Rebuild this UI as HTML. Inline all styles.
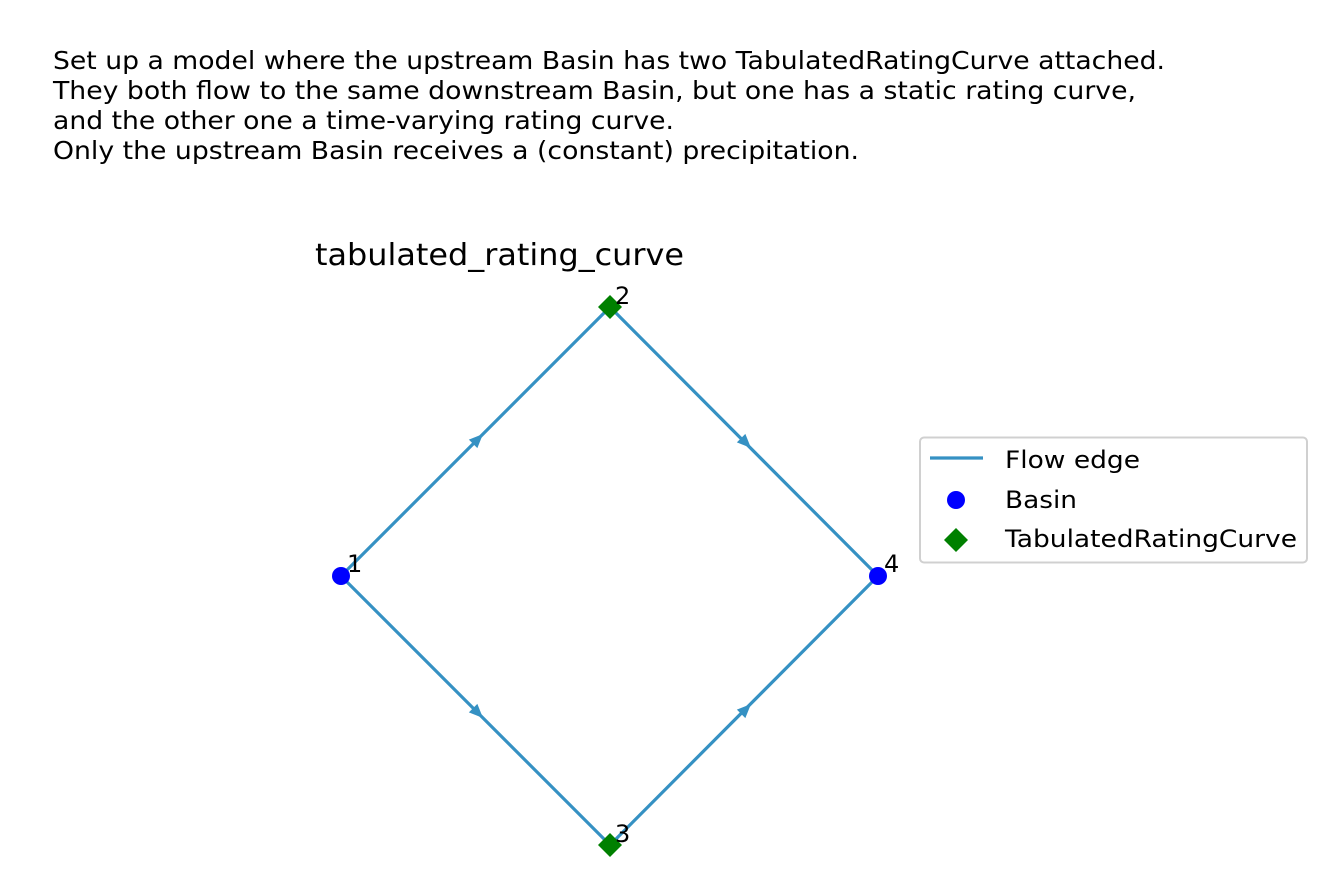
<!DOCTYPE html>
<html><head><style>
html,body{margin:0;padding:0;background:#fff;}
svg{display:block;font-family:"DejaVu Sans","Liberation Sans",sans-serif;}
</style></head><body>
<svg width="1327" height="891" viewBox="0 0 1327 891" xmlns="http://www.w3.org/2000/svg">
<g font-size="24.5" fill="#000">
<text x="53" y="69" textLength="1112" lengthAdjust="spacingAndGlyphs">Set up a model where the upstream Basin has two TabulatedRatingCurve attached.</text>
<text x="53" y="99" textLength="1083" lengthAdjust="spacingAndGlyphs">They both flow to the same downstream Basin, but one has a static rating curve,</text>
<text x="53" y="129" textLength="621" lengthAdjust="spacingAndGlyphs">and the other one a time-varying rating curve.</text>
<text x="53" y="159" textLength="806" lengthAdjust="spacingAndGlyphs">Only the upstream Basin receives a (constant) precipitation.</text>
</g>
<text x="315" y="265" font-size="30" textLength="369" lengthAdjust="spacingAndGlyphs">tabulated_rating_curve</text>
<g stroke="#3591c3" stroke-width="3.2" fill="none">
<line x1="341" y1="576" x2="610" y2="307"/>
<line x1="610" y1="307" x2="878" y2="576"/>
<line x1="341" y1="576" x2="610" y2="845"/>
<line x1="610" y1="845" x2="878" y2="576"/>
</g>
<g fill="#3591c3">
<polygon points="0,0 -14,-6 -14,6" transform="translate(483,434) rotate(-45)"/>
<polygon points="0,0 -14,-6 -14,6" transform="translate(751,448) rotate(45)"/>
<polygon points="0,0 -14,-6 -14,6" transform="translate(483,718) rotate(45)"/>
<polygon points="0,0 -14,-6 -14,6" transform="translate(751,704) rotate(-45)"/>
</g>
<circle cx="341" cy="576" r="9" fill="#0000ff"/>
<circle cx="878" cy="576" r="9" fill="#0000ff"/>
<polygon points="610,295 622,307 610,319 598,307" fill="#008000"/>
<polygon points="610,833 622,845 610,857 598,845" fill="#008000"/>
<g font-size="24">
<text x="347" y="572">1</text>
<text x="615" y="304">2</text>
<text x="615" y="842">3</text>
<text x="884" y="572">4</text>
</g>
<rect x="920" y="437.5" width="387" height="125" rx="4" fill="#fff" stroke="#d0d0d0" stroke-width="2"/>
<line x1="930" y1="458" x2="983" y2="458" stroke="#3591c3" stroke-width="3.2"/>
<circle cx="956" cy="500" r="9" fill="#0000ff"/>
<polygon points="956,528 968,540 956,552 944,540" fill="#008000"/>
<g font-size="24">
<text x="1005" y="468" textLength="135" lengthAdjust="spacingAndGlyphs">Flow edge</text>
<text x="1005" y="508" textLength="72" lengthAdjust="spacingAndGlyphs">Basin</text>
<text x="1005" y="547" textLength="292" lengthAdjust="spacingAndGlyphs">TabulatedRatingCurve</text>
</g>
</svg>
</body></html>
